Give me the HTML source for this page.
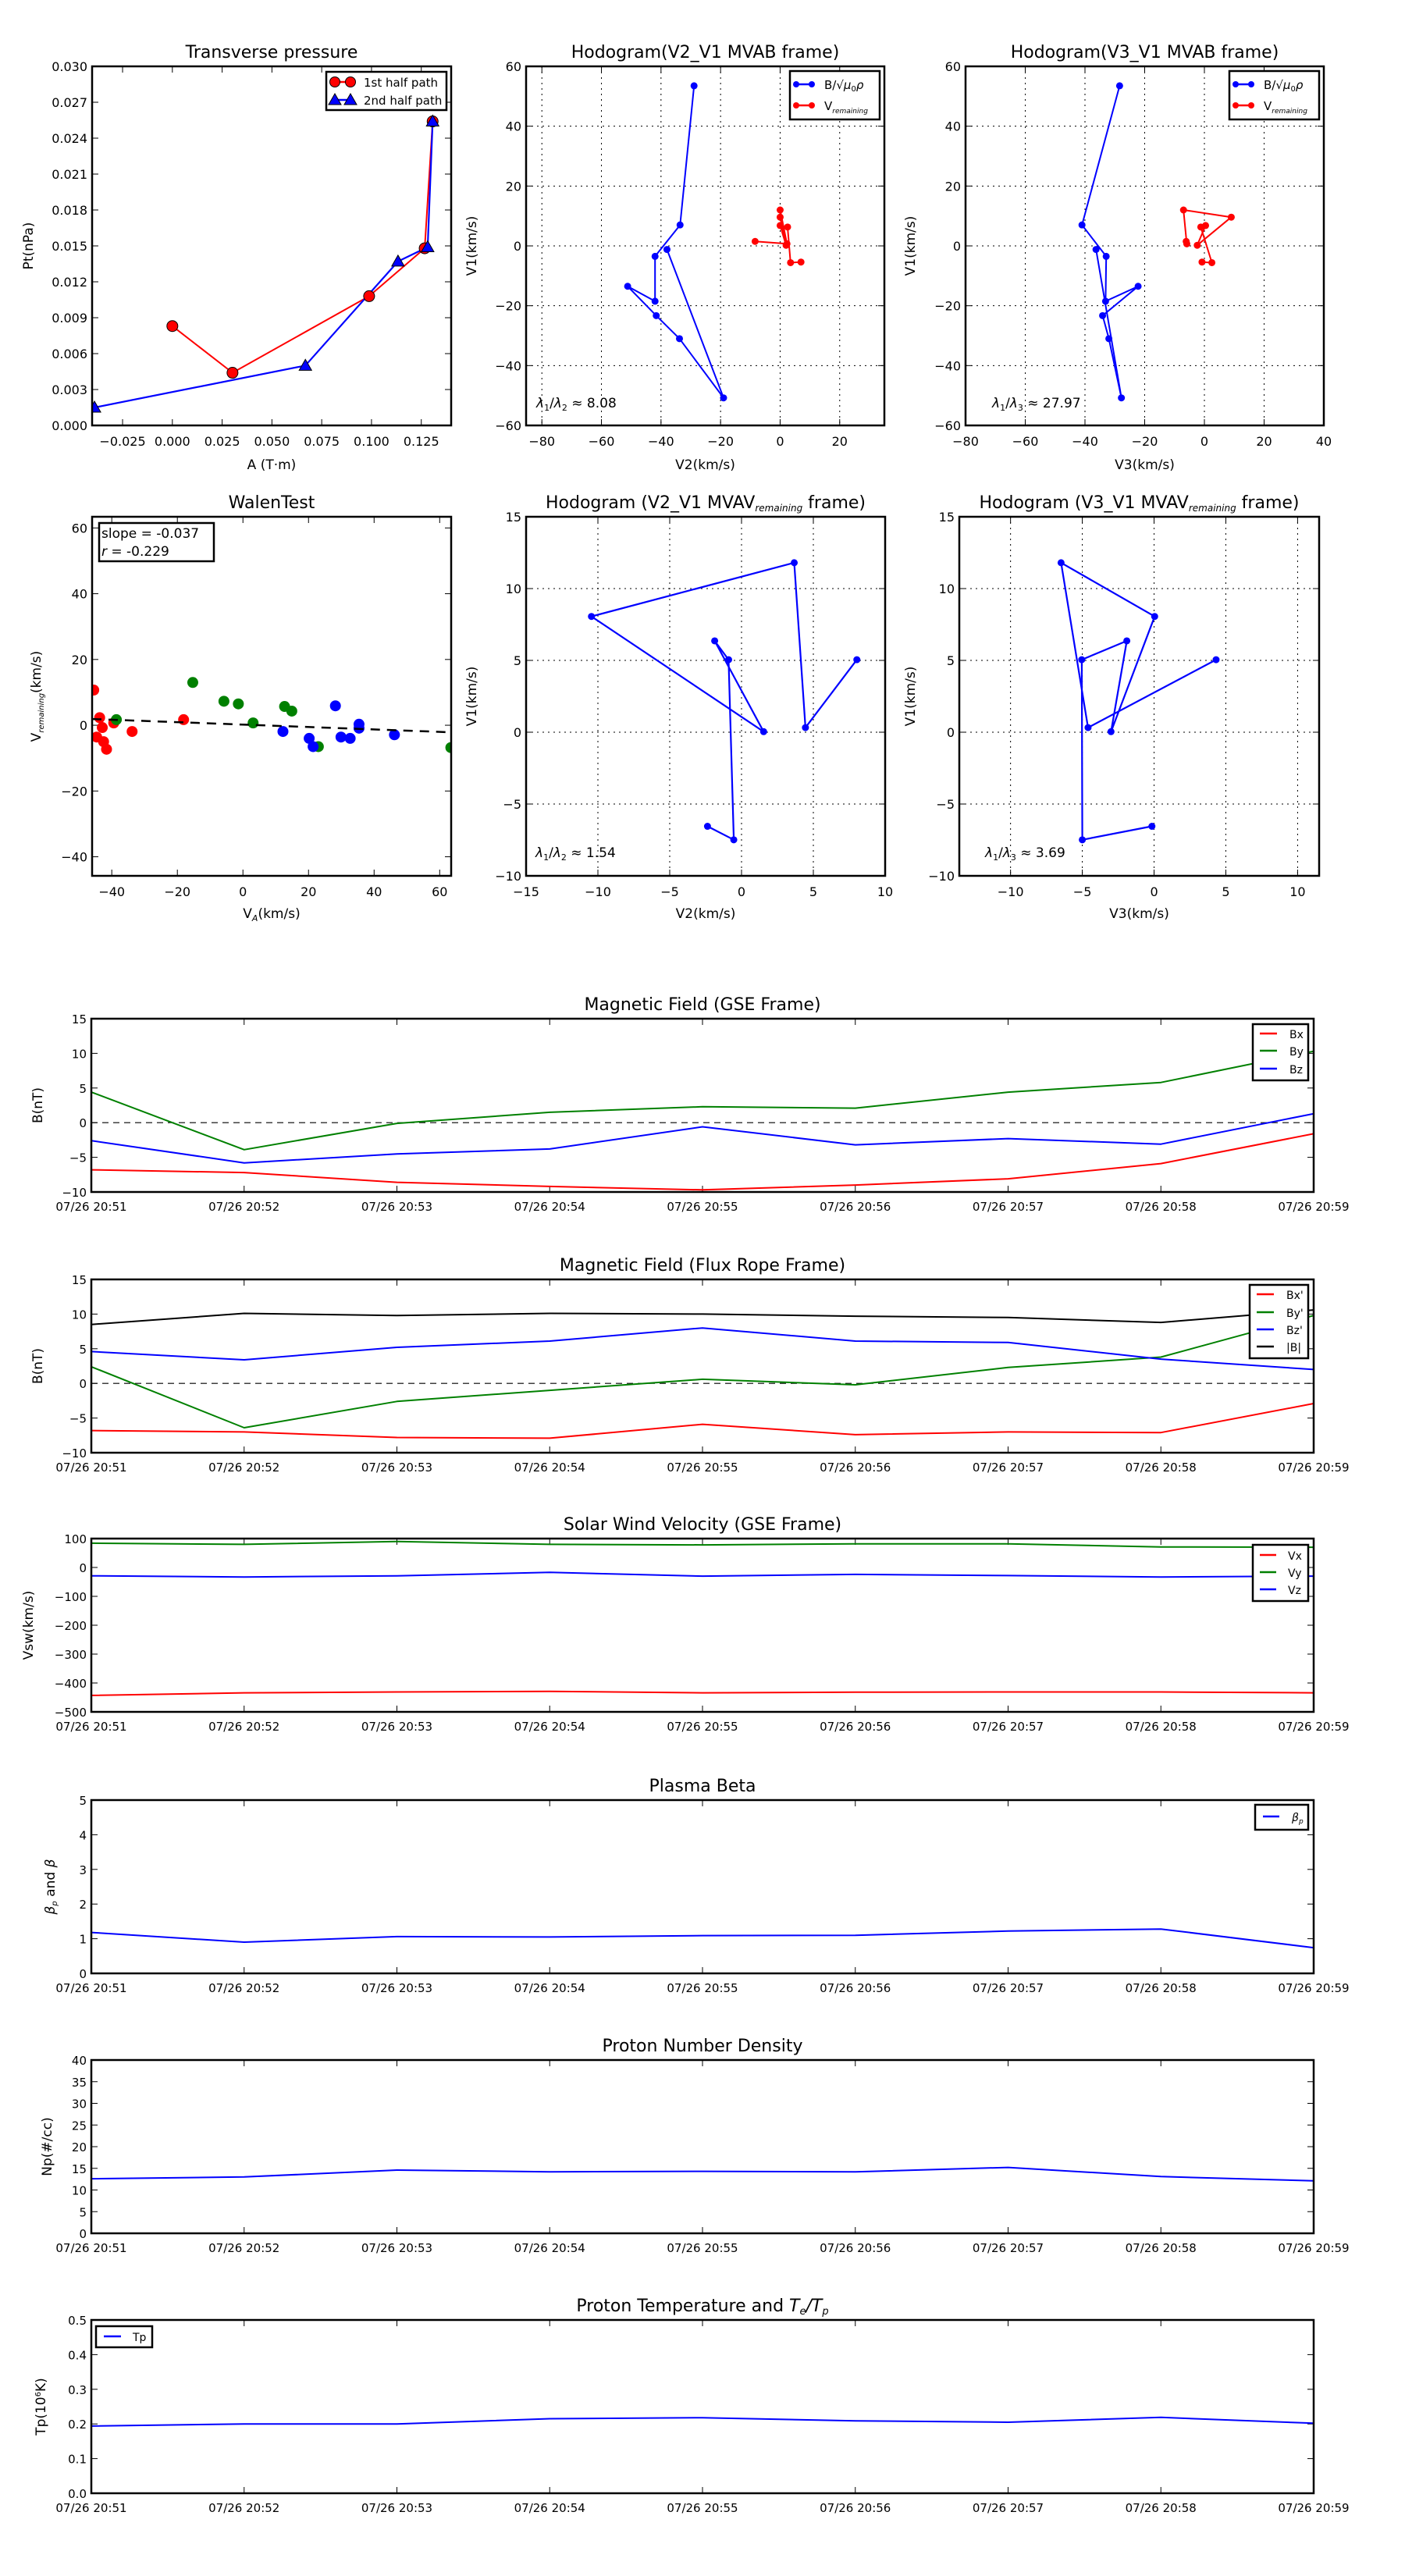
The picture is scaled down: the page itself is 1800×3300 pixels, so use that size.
<!DOCTYPE html>
<html><head><meta charset="utf-8">
<style>
html,body{margin:0;padding:0;background:#fff;}
svg{display:block;font-family:"DejaVu Sans","Liberation Sans",sans-serif;}
</style></head>
<body>
<svg id="fig" width="1800" height="3300" viewBox="0 0 1800 3300" xmlns="http://www.w3.org/2000/svg"></svg>
<script>
// ---------- data ----------
const tpRedA=[0.0,0.0302,0.0988,0.1267,0.1307];
const tpRedP=[0.0083,0.0044,0.0108,0.0148,0.0254];
const tpBlueA=[0.1307,0.1282,0.1133,0.0668,-0.0391];
const tpBlueP=[0.0254,0.0149,0.0137,0.0050,0.0015];

const hbV1=[53.5,7.0,-3.5,-18.5,-13.5,-23.3,-31,-50.8,-1.2];
const hbV2=[-28.9,-33.6,-42,-42,-51.2,-41.6,-33.8,-19,-38];
const hbV3=[-28.4,-41,-32.9,-33.1,-22.2,-34.1,-32,-27.8,-36.3];
const hrV1=[1.5,0.7,12.0,9.6,0.2,6.8,6.3,-5.6,-5.4];
const hrV2=[-8.4,2.3,0,0,2,0,2.5,3.5,7];
const hrV3=[-6.1,-5.9,-7,9,-2.4,0.4,-1.2,2.5,-0.8];

const wRedX=[-45.5,-43.7,-42.9,-44.6,-42.5,-41.6,-39.4,-33.8,-18.1];
const wRedY=[10.7,2.3,-0.7,-3.6,-5.0,-7.3,0.7,-1.9,1.7];
const wGreenX=[-15.3,-5.8,-1.4,-38.6,3.1,12.7,14.9,23.0,63.4];
const wGreenY=[13.0,7.3,6.5,1.7,0.7,5.7,4.3,-6.5,-6.8];
const wBlueX=[12.2,20.2,21.4,28.2,29.9,32.7,35.4,35.4,46.2];
const wBlueY=[-1.9,-4.0,-6.5,5.9,-3.6,-4.0,0.3,-0.9,-2.9];
const wSlope=-0.037, wIntercept=0.2;

const mvV1=[-6.55,-7.49,5.05,6.36,0.04,8.06,11.8,0.32,5.05];
const mvV2=[-2.37,-0.54,-0.9,-1.87,1.54,-10.45,3.67,4.45,8.03];
const mvV3=[-0.15,-5.0,-5.04,-1.9,-3.0,0.04,-6.48,-4.6,4.32];

const timeLabels=["07/26 20:51","07/26 20:52","07/26 20:53","07/26 20:54","07/26 20:55","07/26 20:56","07/26 20:57","07/26 20:58","07/26 20:59"];
const Bx=[-6.8,-7.2,-8.6,-9.2,-9.7,-9.0,-8.1,-5.9,-1.6];
const By=[4.4,-3.9,-0.1,1.5,2.3,2.1,4.4,5.8,10.3];
const Bz=[-2.6,-5.8,-4.5,-3.8,-0.6,-3.2,-2.3,-3.1,1.3];
const Bxp=[-6.8,-7.0,-7.8,-7.9,-5.9,-7.4,-7.0,-7.1,-2.9];
const Byp=[2.4,-6.4,-2.6,-1.0,0.6,-0.2,2.3,3.8,9.8];
const Bzp=[4.6,3.4,5.2,6.1,8.0,6.1,5.9,3.5,2.0];
const Bmag=[8.5,10.1,9.8,10.1,10.0,9.7,9.5,8.8,10.6];
const Vx=[-443,-434,-431,-429,-434,-432,-431,-431,-434];
const Vy=[84,80,90,80,78,82,82,71,70];
const Vz=[-29,-33,-29,-17,-30,-24,-28,-33,-30];
const betaP=[1.18,0.90,1.06,1.05,1.09,1.10,1.22,1.28,0.74];
const Np=[12.6,13.0,14.6,14.2,14.3,14.2,15.2,13.1,12.1];
const Tp=[0.194,0.200,0.200,0.215,0.218,0.209,0.205,0.219,0.202];

// ---------- helpers ----------
const NS='http://www.w3.org/2000/svg';
const svg=document.getElementById('fig');
function mk(tag,attrs,parent){const e=document.createElementNS(NS,tag);for(const k in attrs)e.setAttribute(k,attrs[k]);(parent||svg).appendChild(e);return e;}
function nm(e,name){
  
  
  return e;}
function txt(x,y,s,size,anchor,parent,extra){const t=mk('text',Object.assign({x:x,y:y,'font-size':size,'text-anchor':anchor||'middle',fill:'#000'},extra||{}),parent);t.textContent=s;return t;}
function fmt(v,d){const s=v.toFixed(d);return s.startsWith('-')?'\u2212'+s.slice(1):s;}
function range(a,b,s){const r=[];for(let v=a;v<=b+1e-9;v+=s)r.push(+v.toFixed(6));return r;}

function axes(o){
  const g=nm(mk('g',{}),o.name);
  const X=v=>o.l+(v-o.xmin)/(o.xmax-o.xmin)*(o.r-o.l);
  const Y=v=>o.b-(v-o.ymin)/(o.ymax-o.ymin)*(o.b-o.t);
  const gt=nm(mk('g',{},g),o.name+'-ticks');
  o.xticks.forEach((v,i)=>{const x=X(v);
    if(o.grid) mk('line',{x1:x,x2:x,y1:o.t,y2:o.b,stroke:'#000','stroke-width':1,'stroke-dasharray':'2,5'},gt);
    mk('line',{x1:x,x2:x,y1:o.b,y2:o.b-8,stroke:'#000','stroke-width':1},gt);
    mk('line',{x1:x,x2:x,y1:o.t,y2:o.t+8,stroke:'#000','stroke-width':1},gt);
    const t=txt(x,o.b+(o.xlOff||26),o.xlabels[i],o.tickSize||16,'middle',gt);
    
    });
  o.yticks.forEach((v,i)=>{const y=Y(v);
    if(o.grid) mk('line',{x1:o.l,x2:o.r,y1:y,y2:y,stroke:'#000','stroke-width':1,'stroke-dasharray':'2,5'},gt);
    mk('line',{x1:o.l,x2:o.l+8,y1:y,y2:y,stroke:'#000','stroke-width':1},gt);
    mk('line',{x1:o.r,x2:o.r-8,y1:y,y2:y,stroke:'#000','stroke-width':1},gt);
    const t=txt(o.l-6,y+6,o.ylabels[i],o.tickSize||16,'end',gt);
    
    });
  const clip=mk('clipPath',{id:'c-'+o.name},g);mk('rect',{x:o.l,y:o.t,width:o.r-o.l,height:o.b-o.t},clip);
  const plot=nm(mk('g',{'clip-path':'url(#c-'+o.name+')'},g),o.name+'-plot-area');
  const fr=mk('rect',{x:o.l,y:o.t,width:o.r-o.l,height:o.b-o.t,fill:'none',stroke:'#000','stroke-width':2.5},g);
  
  
  if(o.title){const t=txt((o.l+o.r)/2,o.t-11,'',22,'middle',g);t.innerHTML=o.title;
    
    }
  if(o.xlabel){const t=txt((o.l+o.r)/2,o.b+(o.xlabOff||54),'',17,'middle',g);t.innerHTML=o.xlabel;
    
    }
  if(o.ylabel){const yc=(o.t+o.b)/2;const t=txt(o.ylx,yc,'',17,'middle',g,{transform:'rotate(-90 '+o.ylx+' '+yc+')'});t.innerHTML=o.ylabel;
    
    }
  return {X,Y,g,plot};
}
function line(A,xs,ys,color,w,name,dash){
  const pts=xs.map((x,i)=>A.X(x).toFixed(1)+','+A.Y(ys[i]).toFixed(1)).join(' ');
  const p=mk('polyline',{points:pts,fill:'none',stroke:color,'stroke-width':w||2,'stroke-linejoin':'round'},A.plot);
  if(dash)p.setAttribute('stroke-dasharray',dash);
  
  
  return p;}
function dots(A,xs,ys,color,r,name,stroke){
  const g=mk('g',{},A.plot);
  
  
  xs.forEach((x,i)=>mk('circle',{cx:A.X(x),cy:A.Y(ys[i]),r:r,fill:color,stroke:stroke||'none','stroke-width':1},g));
  return g;}
function tris(A,xs,ys,color,name){
  const g=mk('g',{},A.plot);
  
  
  xs.forEach((x,i)=>{const cx=A.X(x),cy=A.Y(ys[i]);mk('polygon',{points:`${cx},${cy-8} ${cx-8},${cy+6} ${cx+8},${cy+6}`,fill:color,stroke:'#000','stroke-width':1},g);});
  return g;}
function legend(x,y,w,h,entries,name,size){
  const g=mk('g',{});
  
  
  mk('rect',{x:x,y:y,width:w,height:h,fill:'#fff',stroke:'#000','stroke-width':2.5},g);
  entries.forEach(e=>{
    const le=mk('g',{},g);
    
    
    mk('line',{x1:e.x1,x2:e.x2,y1:e.y,y2:e.y,stroke:e.c,'stroke-width':e.w||2.5},le);
    if(e.m==='dot'){mk('circle',{cx:e.x1,cy:e.y,r:e.r||4,fill:e.c,stroke:e.s||'none'},le);mk('circle',{cx:e.x2,cy:e.y,r:e.r||4,fill:e.c,stroke:e.s||'none'},le);}
    if(e.m==='tri'){[e.x1,e.x2].forEach(cx=>mk('polygon',{points:`${cx},${e.y-8} ${cx-8},${e.y+6} ${cx+8},${e.y+6}`,fill:e.c,stroke:'#000'},le));}
    const t=txt(e.tx,e.y+6,'',size||15,'start',le);t.innerHTML=e.label;});
  return g;}

// ---------- Transverse pressure ----------
let A=axes({name:'transverse-pressure',l:118,t:85,r:578,b:545,xmin:-0.0403,xmax:0.14,ymin:0,ymax:0.03,
  xticks:range(-0.025,0.125,0.025),xlabels:range(-0.025,0.125,0.025).map(v=>fmt(v,3)),
  yticks:range(0,0.03,0.003),ylabels:range(0,0.03,0.003).map(v=>fmt(v,3)),
  title:'Transverse pressure',xlabel:'A (T\u00b7m)',ylabel:'Pt(nPa)',ylx:42,xlabOff:56});
line(A,tpRedA,tpRedP,'#ff0000',2,'first-half-line');
line(A,tpBlueA,tpBlueP,'#0000ff',2.2,'second-half-line');
dots(A,tpRedA,tpRedP,'#ff0000',7,'first-half-markers','#000');
tris(A,tpBlueA,tpBlueP,'#0000ff','second-half-markers');
legend(418,92,154,49,[
 {x1:429,x2:449,y:105,c:'#ff0000',m:'dot',r:6.5,s:'#000',tx:466,label:'1st half path'},
 {x1:429,x2:449,y:128,c:'#0000ff',m:'tri',tx:466,label:'2nd half path'}],'transverse-legend',15);

// ---------- Hodograms MVAB ----------
const BL='B/\u221a<tspan font-style="italic">\u03bc</tspan><tspan font-size="10" dy="3">0</tspan><tspan dy="-3" font-style="italic">\u03c1</tspan>';
const VR='V<tspan font-size="9" font-style="italic" dy="4">remaining</tspan>';
A=axes({name:'hodogram-v2-v1-mvab',l:674,t:85,r:1133,b:545,xmin:-85.3,xmax:35,ymin:-60,ymax:60,grid:true,
  xticks:range(-80,20,20),xlabels:range(-80,20,20).map(v=>fmt(v,0)),
  yticks:range(-60,60,20),ylabels:range(-60,60,20).map(v=>fmt(v,0)),
  title:'Hodogram(V2_V1 MVAB frame)',xlabel:'V2(km/s)',ylabel:'V1(km/s)',ylx:610,xlabOff:56});
line(A,hbV2,hbV1,'#0000ff',2,'b-hodogram-line');dots(A,hbV2,hbV1,'#0000ff',4.5,'b-hodogram-points');
line(A,hrV2,hrV1,'#ff0000',2,'v-hodogram-line');dots(A,hrV2,hrV1,'#ff0000',4.5,'v-hodogram-points');
legend(1012,91,115,62,[
 {x1:1020,x2:1040,y:108,c:'#0000ff',m:'dot',tx:1056,label:BL},
 {x1:1020,x2:1040,y:135,c:'#ff0000',m:'dot',tx:1056,label:VR}],'hodogram-mvab-legend-1',15);
nm(txt(687,522,'',17,'start'),'eigen-ratio-1').innerHTML='<tspan font-style="italic">\u03bb</tspan><tspan font-size="11" dy="4">1</tspan><tspan dy="-4">/</tspan><tspan font-style="italic">\u03bb</tspan><tspan font-size="11" dy="4">2</tspan><tspan dy="-4"> \u2248 8.08</tspan>';

A=axes({name:'hodogram-v3-v1-mvab',l:1237,t:85,r:1696,b:545,xmin:-80,xmax:40,ymin:-60,ymax:60,grid:true,
  xticks:range(-80,40,20),xlabels:range(-80,40,20).map(v=>fmt(v,0)),
  yticks:range(-60,60,20),ylabels:range(-60,60,20).map(v=>fmt(v,0)),
  title:'Hodogram(V3_V1 MVAB frame)',xlabel:'V3(km/s)',ylabel:'V1(km/s)',ylx:1172,xlabOff:56});
line(A,hbV3,hbV1,'#0000ff',2,'b-hodogram-line');dots(A,hbV3,hbV1,'#0000ff',4.5,'b-hodogram-points');
line(A,hrV3,hrV1,'#ff0000',2,'v-hodogram-line');dots(A,hrV3,hrV1,'#ff0000',4.5,'v-hodogram-points');
legend(1575,91,115,62,[
 {x1:1583,x2:1603,y:108,c:'#0000ff',m:'dot',tx:1619,label:BL},
 {x1:1583,x2:1603,y:135,c:'#ff0000',m:'dot',tx:1619,label:VR}],'hodogram-mvab-legend-2',15);
nm(txt(1271,522,'',17,'start'),'eigen-ratio-2').innerHTML='<tspan font-style="italic">\u03bb</tspan><tspan font-size="11" dy="4">1</tspan><tspan dy="-4">/</tspan><tspan font-style="italic">\u03bb</tspan><tspan font-size="11" dy="4">3</tspan><tspan dy="-4"> \u2248 27.97</tspan>';

// ---------- Walen ----------
A=axes({name:'walen-test',l:118,t:662,r:578,b:1122,xmin:-46,xmax:63.5,ymin:-45.8,ymax:63.4,
  xticks:range(-40,60,20),xlabels:range(-40,60,20).map(v=>fmt(v,0)),
  yticks:range(-40,60,20),ylabels:range(-40,60,20).map(v=>fmt(v,0)),
  title:'WalenTest',xlabel:'V<tspan font-size="11" font-style="italic" dy="4">A</tspan><tspan dy="-4">(km/s)</tspan>',
  ylabel:'V<tspan font-size="10" font-style="italic" dy="4">remaining</tspan><tspan dy="-4">(km/s)</tspan>',ylx:52,xlabOff:54});
dots(A,wRedX,wRedY,'#ff0000',7,'walen-red-points');
dots(A,wGreenX,wGreenY,'#008000',7,'walen-green-points');
dots(A,wBlueX,wBlueY,'#0000ff',7,'walen-blue-points');
line(A,[-46,63.5],[-46*wSlope+wIntercept,63.5*wSlope+wIntercept],'#000',2.5,'walen-fit-line','12,9');
(function(){const g=mk('g',{});
 
 
 mk('rect',{x:127,y:670,width:147,height:49,fill:'#fff',stroke:'#000','stroke-width':2.5},g);
 txt(130,689,'slope = -0.037',17,'start',g);
 const t=txt(130,712,'',17,'start',g);t.innerHTML='<tspan font-style="italic">r</tspan> = -0.229';})();

// ---------- MVAV hodograms ----------
const MV='<tspan font-size="12" font-style="italic" dy="4">remaining</tspan><tspan dy="-4"> frame)</tspan>';
A=axes({name:'hodogram-v2-v1-mvav',l:674,t:662,r:1134,b:1122,xmin:-15,xmax:10,ymin:-10,ymax:15,grid:true,
  xticks:range(-15,10,5),xlabels:range(-15,10,5).map(v=>fmt(v,0)),
  yticks:range(-10,15,5),ylabels:range(-10,15,5).map(v=>fmt(v,0)),
  title:'Hodogram (V2_V1 MVAV'+MV,xlabel:'V2(km/s)',ylabel:'V1(km/s)',ylx:610,xlabOff:54});
line(A,mvV2,mvV1,'#0000ff',2.2,'mvav-hodogram-line');dots(A,mvV2,mvV1,'#0000ff',4.5,'mvav-hodogram-points');
nm(txt(686,1098,'',17,'start'),'eigen-ratio-3').innerHTML='<tspan font-style="italic">\u03bb</tspan><tspan font-size="11" dy="4">1</tspan><tspan dy="-4">/</tspan><tspan font-style="italic">\u03bb</tspan><tspan font-size="11" dy="4">2</tspan><tspan dy="-4"> \u2248 1.54</tspan>';

A=axes({name:'hodogram-v3-v1-mvav',l:1229,t:662,r:1690,b:1122,xmin:-13.57,xmax:11.5,ymin:-10,ymax:15,grid:true,
  xticks:range(-10,10,5),xlabels:range(-10,10,5).map(v=>fmt(v,0)),
  yticks:range(-10,15,5),ylabels:range(-10,15,5).map(v=>fmt(v,0)),
  title:'Hodogram (V3_V1 MVAV'+MV,xlabel:'V3(km/s)',ylabel:'V1(km/s)',ylx:1172,xlabOff:54});
line(A,mvV3,mvV1,'#0000ff',2.2,'mvav-hodogram-line');dots(A,mvV3,mvV1,'#0000ff',4.5,'mvav-hodogram-points');
nm(txt(1262,1098,'',17,'start'),'eigen-ratio-4').innerHTML='<tspan font-style="italic">\u03bb</tspan><tspan font-size="11" dy="4">1</tspan><tspan dy="-4">/</tspan><tspan font-style="italic">\u03bb</tspan><tspan font-size="11" dy="4">3</tspan><tspan dy="-4"> \u2248 3.69</tspan>';

// ---------- time series ----------
const tIdx=timeLabels.map((_,i)=>i);
function ts(name,top,ymin,ymax,step,dec,title,ylabel,ylx){
  return axes({name:name,l:117,t:top,r:1683,b:top+222,xmin:0,xmax:8,ymin:ymin,ymax:ymax,
    xticks:tIdx,xlabels:timeLabels,yticks:range(ymin,ymax,step),ylabels:range(ymin,ymax,step).map(v=>fmt(v,dec)),
    title:title,ylabel:ylabel,ylx:ylx,tickSize:15,xlOff:24});}

A=ts('magnetic-field-gse',1305,-10,15,5,0,'Magnetic Field (GSE Frame)','B(nT)',54);
line(A,[0,8],[0,0],'#000',1.2,'zero-line','8,6');
line(A,tIdx,Bx,'#ff0000',2,'bx-line');line(A,tIdx,By,'#008000',2,'by-line');line(A,tIdx,Bz,'#0000ff',2,'bz-line');
legend(1605,1312,71,72,[
 {x1:1614,x2:1636,y:1324,c:'#ff0000',tx:1652,label:'Bx'},
 {x1:1614,x2:1636,y:1346,c:'#008000',tx:1652,label:'By'},
 {x1:1614,x2:1636,y:1369,c:'#0000ff',tx:1652,label:'Bz'}],'gse-legend',14);

A=ts('magnetic-field-flux-rope',1639,-10,15,5,0,'Magnetic Field (Flux Rope Frame)','B(nT)',54);
line(A,[0,8],[0,0],'#000',1.2,'zero-line','8,6');
line(A,tIdx,Bxp,'#ff0000',2,'bx-prime-line');line(A,tIdx,Byp,'#008000',2,'by-prime-line');
line(A,tIdx,Bzp,'#0000ff',2,'bz-prime-line');line(A,tIdx,Bmag,'#000',2,'b-magnitude-line');
legend(1601,1646,75,94,[
 {x1:1610,x2:1632,y:1658,c:'#ff0000',tx:1648,label:"Bx'"},
 {x1:1610,x2:1632,y:1681,c:'#008000',tx:1648,label:"By'"},
 {x1:1610,x2:1632,y:1703,c:'#0000ff',tx:1648,label:"Bz'"},
 {x1:1610,x2:1632,y:1725,c:'#000',tx:1648,label:'|B|'}],'flux-rope-legend',14);

A=ts('solar-wind-velocity',1971,-500,100,100,0,'Solar Wind Velocity (GSE Frame)','Vsw(km/s)',42);
line(A,tIdx,Vx,'#ff0000',2,'vx-line');line(A,tIdx,Vy,'#008000',2,'vy-line');line(A,tIdx,Vz,'#0000ff',2,'vz-line');
legend(1605,1979,71,72,[
 {x1:1614,x2:1635,y:1992,c:'#ff0000',tx:1650,label:'Vx'},
 {x1:1614,x2:1635,y:2014,c:'#008000',tx:1650,label:'Vy'},
 {x1:1614,x2:1635,y:2036,c:'#0000ff',tx:1650,label:'Vz'}],'velocity-legend',14);

A=ts('plasma-beta',2306,0,5,1,0,'Plasma Beta','<tspan font-style="italic">\u03b2</tspan><tspan font-size="10" font-style="italic" dy="3">p</tspan><tspan dy="-3"> and </tspan><tspan font-style="italic">\u03b2</tspan>',70);
line(A,tIdx,betaP,'#0000ff',2,'beta-p-line');
legend(1608,2312,68,32,[
 {x1:1618,x2:1639,y:2327,c:'#0000ff',tx:1655,label:'<tspan font-style="italic">\u03b2</tspan><tspan font-size="9" font-style="italic" dy="3">p</tspan>'}],'beta-legend',14);

A=ts('proton-number-density',2639,0,40,5,0,'Proton Number Density','Np(#/cc)',66);
line(A,tIdx,Np,'#0000ff',2,'np-line');

A=ts('proton-temperature',2972,0,0.5,0.1,1,'Proton Temperature and <tspan font-style="italic">T</tspan><tspan font-size="13" font-style="italic" dy="4">e</tspan><tspan dy="-4" font-style="italic">/T</tspan><tspan font-size="13" font-style="italic" dy="4">p</tspan>','Tp(10<tspan font-size="10" dy="-6">6</tspan><tspan dy="6">K)</tspan>',58);
line(A,tIdx,Tp,'#0000ff',2,'tp-line');
legend(123,2980,72,27,[
 {x1:133,x2:155,y:2993,c:'#0000ff',tx:170,label:'Tp'}],'temperature-legend',14);
</script>
</body></html>
